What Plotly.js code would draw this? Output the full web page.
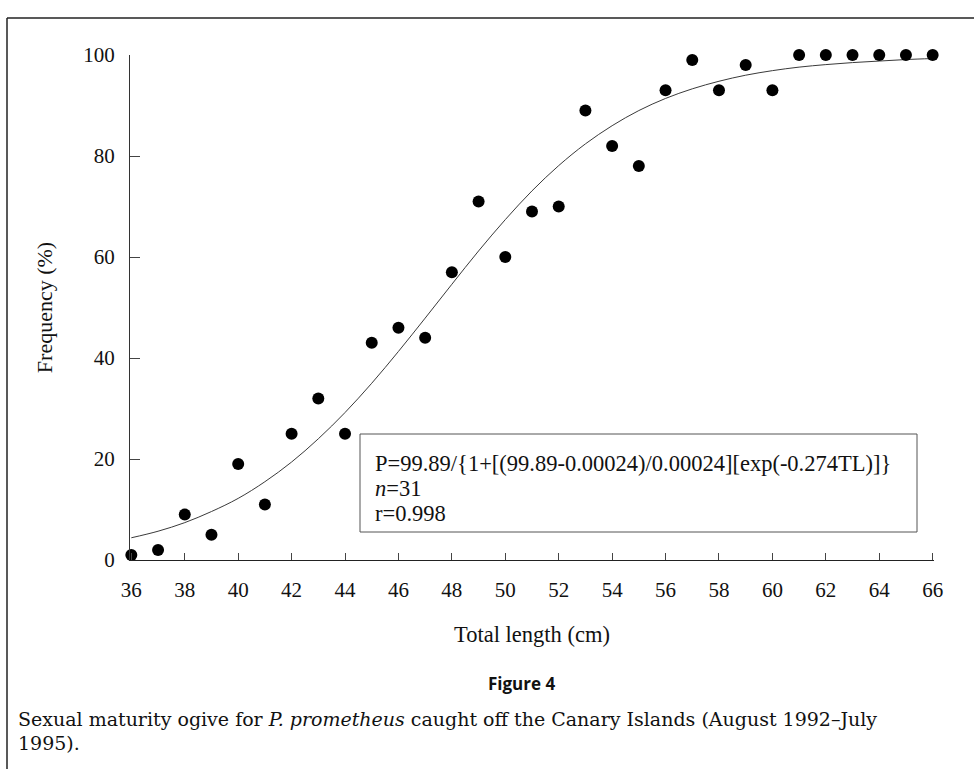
<!DOCTYPE html>
<html>
<head>
<meta charset="utf-8">
<script src="https://cdn.plot.ly/plotly-3.0.1.min.js"></script>
<style>
  html, body { margin: 0; padding: 0; background: #fff; }
  #chart { width: 974px; height: 769px; }
</style>
</head>
<body>
<div id="chart"></div>
<script>
// ---- data ----
const lengthCm = [36,37,38,39,40,41,42,43,44,45,46,47,48,49,50,51,52,53,54,55,56,57,58,59,60,61,62,63,64,65,66];
const maturePct = [1,2,9,5,19,11,25,32,25,43,46,44,57,71,60,69,70,89,82,78,93,99,93,98,93,100,100,100,100,100,100];
// fitted ogive
const curveX = [36,37,38,39,40,41,42,43,44,45,46,47,48,49,50,51,52,53,54,55,56,57,58,59,60,61,62,63,64,65,66];
const curveY = [4.4,5.7,7.4,9.6,12.2,15.5,19.4,24.0,29.2,35.0,41.3,47.9,54.6,61.2,67.4,73.1,78.1,82.4,86.0,89.0,91.4,93.3,94.8,96.0,96.9,97.6,98.1,98.5,98.8,99.1,99.3];
const xTickVals = [36,38,40,42,44,46,48,50,52,54,56,58,60,62,64,66];
const yTickVals = [0,20,40,60,80,100];
const boxLines = ["P=99.89/{1+[(99.89-0.00024)/0.00024][exp(-0.274TL)]}", "<i>n</i>=31", "r=0.998"];
const figLabel = "Figure 4";
const captionLines = ["Sexual maturity ogive for <i>P. prometheus</i> caught off the Canary Islands (August 1992–July", "1995)."];

// ---- layout geometry (pixels) ----
const W = 974, H = 769;
const L = 130, R = 934, T = 55, B = 560;
const px = x => (x - L) / (R - L);
const py = y => (B - y) / (B - T);

const serif = "Liberation Serif, Times New Roman, serif";

const traces = [
  {
    x: curveX, y: curveY, type: "scatter", mode: "lines",
    line: { color: "#3a3a3a", width: 1, shape: "spline" },
    hoverinfo: "skip", showlegend: false, cliponaxis: false
  },
  {
    x: lengthCm, y: maturePct, type: "scatter", mode: "markers",
    marker: { color: "#000", size: 12 },
    showlegend: false, cliponaxis: false
  }
];

const boxLineY = [463, 488, 513];
const annotations = boxLines.map((t, i) => ({
  xref: "paper", yref: "paper", x: px(373), y: py(boxLineY[i]),
  xanchor: "left", yanchor: "middle", align: "left",
  text: t, font: { family: serif, size: 22.5, color: "#111" }, showarrow: false
}));
annotations.push({
  xref: "paper", yref: "paper", x: px(521), y: py(683),
  xanchor: "center", yanchor: "middle",
  text: "<b>" + figLabel + "</b>",
  font: { family: "Open Sans, sans-serif", size: 17, color: "#111" },
  showarrow: false
});
const capY = [719, 743];
captionLines.forEach((t, i) => annotations.push({
  xref: "paper", yref: "paper", x: px(16), y: py(capY[i]),
  xanchor: "left", yanchor: "middle", align: "left",
  text: t, font: { family: "DejaVu Serif, serif", size: 19, color: "#111" },
  showarrow: false
}));

const layout = {
  width: W, height: H,
  margin: { l: L, r: W - R, t: T, b: H - B },
  paper_bgcolor: "#fff", plot_bgcolor: "#fff",
  showlegend: false,
  xaxis: {
    range: [35.95, 66.05], tickvals: xTickVals, ticktext: xTickVals.map(String),
    ticks: "inside", ticklen: 7, tickwidth: 1, tickcolor: "#444",
    showline: true, linecolor: "#222", linewidth: 1.2,
    showgrid: false, zeroline: false,
    tickfont: { family: serif, size: 21, color: "#111" },
    ticklabelstandoff: 11,
    title: { text: "Total length (cm)", font: { family: serif, size: 22.5, color: "#111" }, standoff: 24 }
  },
  yaxis: {
    range: [0, 100], tickvals: yTickVals, ticktext: yTickVals.map(String),
    ticks: "inside", ticklen: 10, tickwidth: 1, tickcolor: "#444",
    showline: true, linecolor: "#333", linewidth: 1,
    showgrid: false, zeroline: false,
    tickfont: { family: serif, size: 21, color: "#111" },
    ticklabelstandoff: 10,
    title: { text: "Frequency (%)", font: { family: serif, size: 22, color: "#111" }, standoff: 24 }
  },
  annotations: annotations,
  shapes: [
    { type: "rect", xref: "paper", yref: "paper", x0: px(360), x1: px(917), y0: py(434), y1: py(532),
      line: { color: "#555", width: 1 }, fillcolor: "rgba(0,0,0,0)", layer: "below" },
    { type: "line", xref: "paper", yref: "paper", x0: px(7), x1: px(7), y0: py(18), y1: py(769), line: { color: "#222", width: 1.5 } },
    { type: "line", xref: "paper", yref: "paper", x0: px(7), x1: px(974), y0: py(18), y1: py(18), line: { color: "#222", width: 1.5 } }
  ]
};

Plotly.newPlot("chart", traces, layout, { displayModeBar: false, staticPlot: true });
</script>
</body>
</html>
